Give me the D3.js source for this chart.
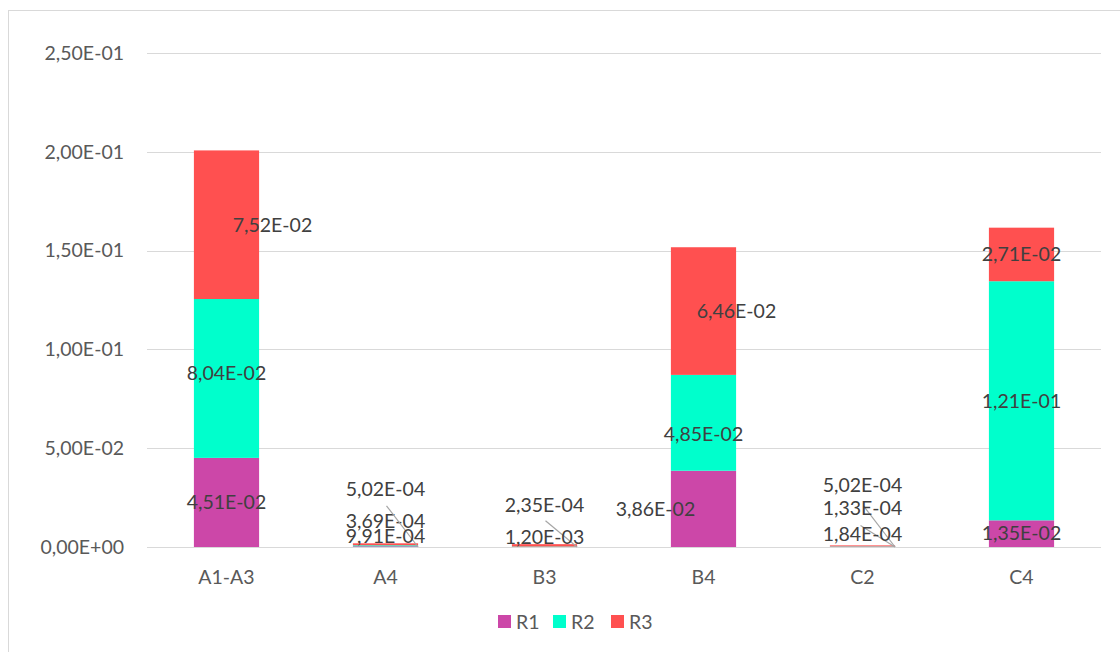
<!DOCTYPE html>
<html><head><meta charset="utf-8">
<script src="https://cdn.jsdelivr.net/npm/d3@7"></script>
<style>
html,body{margin:0;padding:0;background:#fff;}
svg{display:block;font-family:Lato,"Open Sans",sans-serif;}
</style></head>
<body><svg id="c" width="1120" height="652"></svg>
<script>
const categories = ["A1-A3","A4","B3","B4","C2","C4"];
const seriesNames = ["R1","R2","R3"];
const R1 = [4.51e-2, 3.69e-4, 0, 3.86e-2, 1.33e-4, 1.35e-2];
const R2 = [8.04e-2, 5.02e-4, 2.35e-4, 4.85e-2, 1.84e-4, 1.21e-1];
const R3 = [7.52e-2, 9.91e-4, 1.20e-3, 6.46e-2, 5.02e-4, 2.71e-2];
const yTicks = [0, 0.05, 0.10, 0.15, 0.20, 0.25];
const colors = {R1:"#CC47A8", R2:"#00FFCC", R3:"#FF5050"};
const FS = 19.5;

// label placement styles (pixel offsets from segment centre) for crowded labels
const labelOffsets = {
  "A1-A3|R3":[46,0], "A1-A3|R2":[0,-5],
  "B4|R1":[-48,0], "B4|R2":[0,11], "B4|R3":[33,0],
  "A4|R1":[0,-25], "A4|R2":[0,-57], "A4|R3":[0,-8],
  "B3|R2":[0,-42], "B3|R3":[0,-8],
  "C2|R1":[0,-39], "C2|R2":[0,-12], "C2|R3":[0,-61]
};
// leader start offsets (dx, dy) relative to label centre
const leaders = {"A4|R2":[1,17], "B3|R2":[1,16], "C2|R1":[1,-2], "C2|R2":[-2,-9]};

function fmt(v){
  if (v===0) return "0,00E+00";
  let e = Math.floor(Math.log10(Math.abs(v)));
  let m = v/Math.pow(10,e);
  if (Math.round(m*100)/100>=10){ m/=10; e+=1; }
  const sign = e<0?"-":"+";
  const es = String(Math.abs(e)).padStart(2,"0");
  return m.toFixed(2).replace(".",",")+"E"+sign+es;
}

const svg = d3.select("#c");
// chart border
svg.append("rect").attr("x",8.5).attr("y",10.5).attr("width",1130).attr("height",660)
  .attr("fill","none").attr("stroke","#D9D9D9").attr("stroke-width",1);

const x = d3.scaleBand().domain(categories).range([147,1101]).paddingInner(0.59).paddingOuter(0.295);
const y = d3.scaleLinear().domain([0,0.25]).range([547,53]);

// gridlines
svg.append("g").selectAll("line").data(yTicks).join("line")
  .attr("x1",147).attr("x2",1101).attr("y1",d=>Math.round(y(d))+0.5).attr("y2",d=>Math.round(y(d))+0.5)
  .attr("stroke","#D9D9D9").attr("stroke-width",1);

// y axis labels
const yAxis = d3.axisLeft(y).tickValues(yTicks).tickFormat(fmt).tickSize(0).tickPadding(0);
const gy = svg.append("g").attr("transform","translate(124,0)").call(yAxis);
gy.select(".domain").remove();
gy.selectAll("text").attr("font-size",FS).attr("fill","#595959").attr("font-family","Lato,'Open Sans',sans-serif");

// x axis labels
const xAxis = d3.axisBottom(x).tickSize(0).tickPadding(0);
const gx = svg.append("g").attr("transform","translate(0,570)").call(xAxis);
gx.select(".domain").remove();
gx.selectAll("text").attr("font-size",FS).attr("fill","#595959").attr("font-family","Lato,'Open Sans',sans-serif");

// stack
const table = categories.map((c,i)=>({cat:c, R1:R1[i], R2:R2[i], R3:R3[i]}));
const stacked = d3.stack().keys(seriesNames)(table);

const gb = svg.append("g");
stacked.forEach(s=>{
  gb.selectAll(null).data(s).join("rect")
    .attr("x",d=>x(d.data.cat)).attr("width",x.bandwidth())
    .attr("y",d=>y(d[1])).attr("height",d=>Math.max(0,y(d[0])-y(d[1])))
    .attr("fill",colors[s.key]);
});

// baseline
svg.append("line").attr("x1",147).attr("x2",1101).attr("y1",547.5).attr("y2",547.5)
  .attr("stroke","#D9D9D9").attr("stroke-width",1);

// data labels
const gl = svg.append("g");
stacked.forEach(s=>{
  s.forEach(d=>{
    const v = d.data[s.key];
    if (v===0) return;
    const key = d.data.cat+"|"+s.key;
    const off = labelOffsets[key]||[0,0];
    const cx = x(d.data.cat)+x.bandwidth()/2;
    const cy = (y(d[0])+y(d[1]))/2;
    const lx = cx+off[0], ly = cy+off[1];
    if (leaders[key]){
      const L = leaders[key];
      gl.append("line").attr("x1",lx+L[0]).attr("y1",ly+L[1]).attr("x2",x(d.data.cat)+x.bandwidth()).attr("y2",547)
        .attr("stroke","#A6A6A6").attr("stroke-width",1.2);
    }
    gl.append("text").attr("x",lx).attr("y",ly).attr("dy","0.35em").attr("text-anchor","middle")
      .attr("font-size",FS).attr("fill","#404040").text(fmt(v));
  });
});

// legend
const lg = svg.append("g").attr("transform","translate(498,622)");
seriesNames.forEach((n,i)=>{
  const xo = [0,55,113][i];
  lg.append("rect").attr("x",xo).attr("y",-7).attr("width",13).attr("height",13).attr("fill",colors[n]);
  lg.append("text").attr("x",xo+18).attr("y",0).attr("dy","0.35em").attr("font-size",FS).attr("fill","#595959").text(n);
});
</script></body></html>
